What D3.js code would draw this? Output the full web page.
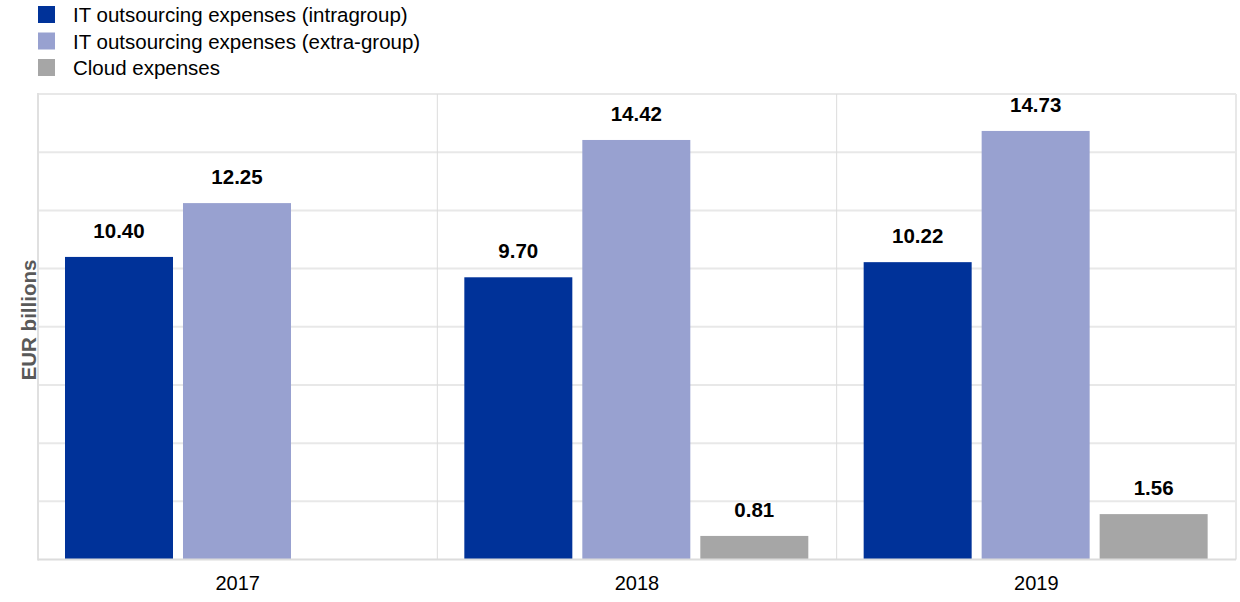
<!DOCTYPE html>
<html><head><meta charset="utf-8">
<script src="https://cdn.jsdelivr.net/npm/d3@7"></script>
<style>body{margin:0;background:#fff;} svg{display:block;font-family:"Liberation Sans",Arial,sans-serif;}</style>
</head><body>
<svg id="c" width="1240" height="602"></svg>
<script>
const years = ["2017","2018","2019"];
const seriesNames = ["IT outsourcing expenses (intragroup)","IT outsourcing expenses (extra-group)","Cloud expenses"];
const intragroup = [10.40, 9.70, 10.22];
const extragroup = [12.25, 14.42, 14.73];
const cloud = [null, 0.81, 1.56];
const colors = ["#003299","#98A1D0","#A6A6A6"];
const yTicks = [0,2,4,6,8,10,12,14,16];

const svg = d3.select("#c");
const m = {left:38, right:1236, top:94, bottom:559.5};
const x0 = d3.scaleBand().domain(years).range([m.left, m.right]).paddingInner(0).paddingOuter(0);
const bw = x0.bandwidth();
const x1 = d3.scaleBand().domain([0,1,2]).range([bw*0.0676, bw*0.929]).paddingInner(0.0847).paddingOuter(0);
const y = d3.scaleLinear().domain([0,16]).range([m.bottom, m.top]);

// gridlines
svg.append("g").selectAll("line").data(yTicks.slice(1)).join("line")
  .attr("x1", m.left).attr("x2", m.right)
  .attr("y1", d=>y(d)).attr("y2", d=>y(d))
  .attr("stroke","#e8e8e8").attr("stroke-width",2);
// vertical separators
svg.append("g").selectAll("line").data(years.slice(1)).join("line")
  .attr("x1", d=>x0(d)).attr("x2", d=>x0(d))
  .attr("y1", m.top).attr("y2", m.bottom)
  .attr("stroke","#dcdcdc").attr("stroke-width",1);
svg.append("line").attr("x1",m.right).attr("x2",m.right).attr("y1",m.top).attr("y2",m.bottom)
  .attr("stroke","#e8e8e8").attr("stroke-width",2);
// left axis
svg.append("line").attr("x1",m.left).attr("x2",m.left).attr("y1",m.top-1).attr("y2",m.bottom+1)
  .attr("stroke","#e0e0e0").attr("stroke-width",2);

const rows = [];
years.forEach((yr,i)=>{
  [intragroup[i], extragroup[i], cloud[i]].forEach((v,s)=>{
    if (v!=null) rows.push({yr, s, v});
  });
});
svg.append("g").selectAll("rect").data(rows).join("rect")
  .attr("x", d=>x0(d.yr)+x1(d.s)).attr("width", x1.bandwidth())
  .attr("y", d=>y(d.v)).attr("height", d=>y(0)-y(d.v))
  .attr("fill", d=>colors[d.s]);
svg.append("g").selectAll("text").data(rows).join("text")
  .attr("x", d=>x0(d.yr)+x1(d.s)+x1.bandwidth()/2)
  .attr("y", d=>y(d.v)-19)
  .attr("text-anchor","middle").attr("font-size",20.5).attr("font-weight","bold").attr("fill","#000")
  .text(d=>d.v.toFixed(2));

// bottom axis line
svg.append("line").attr("x1",m.left).attr("x2",m.right).attr("y1",m.bottom).attr("y2",m.bottom)
  .attr("stroke","#dcdcdc").attr("stroke-width",2);
// x axis labels
const xa = svg.append("g").attr("transform",`translate(0,${m.bottom})`)
  .call(d3.axisBottom(x0).tickSize(0).tickPadding(16));
xa.select(".domain").remove();
xa.selectAll("text").attr("font-size",20).attr("font-family","Liberation Sans, Arial, sans-serif").attr("fill","#000");

// y title
svg.append("text").attr("transform","translate(36,320) rotate(-90)")
  .attr("text-anchor","middle").attr("font-size",20.5).attr("font-weight","bold").attr("fill","#595959")
  .text("EUR billions");

// legend
const lg = svg.append("g").selectAll("g").data(seriesNames).join("g")
  .attr("transform",(d,i)=>`translate(38,${6+i*26.5})`);
lg.append("rect").attr("width",17).attr("height",17).attr("fill",(d,i)=>colors[i]);
lg.append("text").attr("x",35).attr("y",16).attr("font-size",20.5).attr("fill","#000").text(d=>d);
</script>
</body></html>
